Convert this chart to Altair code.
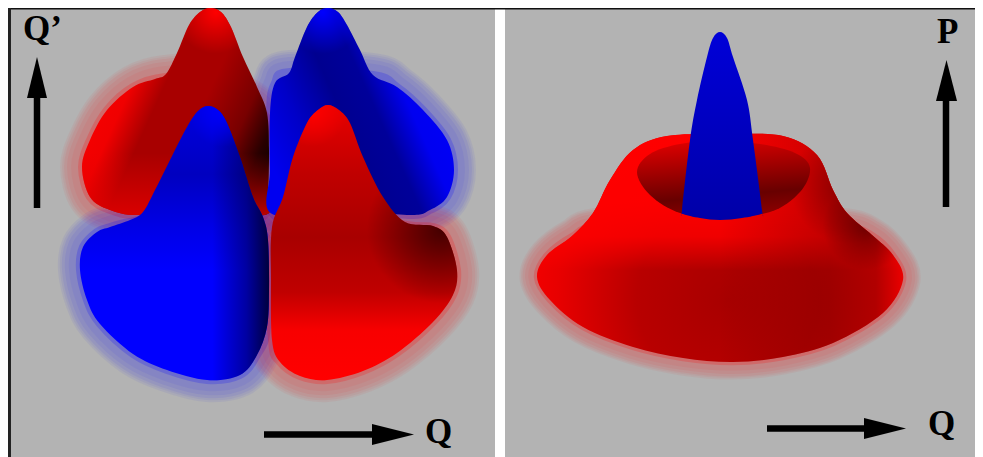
import altair as alt
import pandas as pd

GRAY = "#b3b3b3"
PANEL_X = [11, 505]
PANEL_X2 = [495, 975]

# --- outlines (Q, Q'), left panel ---
BR_LOBE_X = [165, 133, 107, 90, 82, 90, 110, 140, 200, 265, 268, 200]
BR_LOBE_Y = [77, 87, 110, 140, 167, 197, 210, 215, 205, 215, 120, 80]
BR_BODY_X = [210, 221, 231, 243, 257, 267, 269, 268, 265, 200, 140, 110, 90, 82, 90, 107, 133, 155, 166, 177, 189, 200]
BR_BODY_Y = [8, 12, 27, 57, 87, 113, 150, 190, 215, 207, 215, 210, 197, 167, 140, 110, 87, 79, 74, 53, 25, 12]
BB_LOBE_X = [373, 397, 423, 447, 454, 447, 430, 410, 340, 272, 270, 275, 290]
BB_LOBE_Y = [75, 87, 110, 140, 170, 197, 210, 215, 210, 213, 113, 83, 72]
BB_BODY_X = [328, 338, 347, 360, 373, 397, 423, 447, 454, 447, 430, 410, 340, 272, 270, 270, 275, 289, 295, 307, 318]
BB_BODY_Y = [8, 12, 25, 50, 75, 87, 110, 140, 170, 197, 210, 215, 210, 214, 170, 113, 83, 73, 57, 27, 12]
FB_LOBE_X = [130, 110, 97, 83, 80, 87, 100, 133, 167, 207, 240, 257, 267, 268, 200]
FB_LOBE_Y = [222, 227, 232, 247, 270, 300, 324, 354, 370, 380, 375, 355, 327, 240, 210]
FB_BODY_X = [208, 218, 227, 240, 253, 263, 268, 269, 267, 257, 240, 207, 167, 133, 100, 87, 80, 83, 97, 110, 130, 143, 155, 170, 187, 198]
FB_BODY_Y = [106, 110, 123, 157, 197, 217, 240, 290, 327, 355, 375, 380, 370, 354, 324, 300, 270, 247, 232, 227, 220, 212, 190, 160, 127, 111]
FR_LOBE_X = [407, 433, 447, 457, 453, 433, 397, 363, 327, 300, 280, 272, 271, 330]
FR_LOBE_Y = [225, 227, 237, 270, 295, 322, 353, 371, 380, 376, 362, 340, 240, 210]
FR_BODY_X = [328, 339, 350, 363, 383, 405, 433, 447, 457, 453, 433, 397, 363, 327, 300, 280, 272, 271, 272, 283, 293, 307, 318]
FR_BODY_Y = [105, 110, 123, 157, 197, 222, 226, 237, 270, 295, 322, 353, 371, 380, 376, 362, 340, 280, 227, 197, 157, 123, 110]

# --- right panel ---
DISC_X = [537, 547, 572, 593, 610, 633, 667, 725, 783, 817, 833, 847, 872, 893, 903, 883, 833, 783, 733, 683, 633, 583, 550]
DISC_Y = [277, 255, 236, 213, 180, 150, 136, 134, 136, 155, 190, 213, 235, 255, 280, 313, 343, 357, 362, 358, 347, 327, 300]
DISC_HALO_X = [537, 547, 572, 600, 720, 840, 872, 893, 903, 883, 833, 783, 733, 683, 633, 583, 550]
DISC_HALO_Y = [277, 255, 236, 225, 215, 225, 235, 255, 280, 313, 343, 357, 362, 358, 347, 327, 300]
CRATER_X = [637, 650, 680, 720, 770, 800, 810, 795, 760, 720, 680, 650]
CRATER_Y = [172, 195, 213, 217, 212, 192, 168, 153, 144, 141, 144, 154]
CONE_X = [720, 727, 733, 747, 753, 762, 761, 742, 720, 700, 683, 682, 690, 697, 707, 713]
CONE_Y = [32, 38, 57, 100, 140, 210, 214, 218, 220, 218, 214, 210, 140, 100, 57, 38]

# --- arrows ---
ARROWS = {
    "up1": ([37, 37], [98, 208], [27, 37, 47], [98, 57, 98]),
    "up2": ([946, 946], [101, 207], [936, 946.5, 957], [101, 60, 101]),
    "r1": ([264, 372], [434.5, 434.5], [372, 414, 372], [424, 434.5, 445]),
    "r2": ([767, 864], [428.5, 428.5], [864, 906, 864], [418, 428.5, 439]),
}
LABELS = ["Q\u2019", "Q", "P", "Q"]
LABEL_X = [23, 425, 937, 928]
LABEL_Y = [40, 443, 43, 435]

X = alt.X("x:Q", scale=alt.Scale(domain=[8, 975], nice=False, zero=False), axis=None)
Y = alt.Y("y:Q", scale=alt.Scale(domain=[457, 8], nice=False, zero=False), axis=None)


def stops(pairs):
    return [alt.GradientStop(offset=o, color=c) for o, c in pairs]


def lin(x1, y1, x2, y2, pairs):
    return alt.LinearGradient(gradient="linear", x1=x1, y1=y1, x2=x2, y2=y2, stops=stops(pairs))


def rad(cx, cy, r, pairs):
    return alt.RadialGradient(gradient="radial", x1=cx, y1=cy, x2=cx, y2=cy, r1=0, r2=r, stops=stops(pairs))


def frame(xs, ys):
    return pd.DataFrame({"x": xs, "y": ys, "i": range(len(xs))})


def shape(xs, ys, fill, interp="cardinal-closed", **kw):
    return alt.Chart(frame(xs, ys)).mark_line(
        fill=fill, interpolate=interp, tension=0, strokeOpacity=0, **kw
    ).encode(x=X, y=Y, order="i:Q")


def halo(xs, ys, color, k=1.0):
    out = []
    for w, op in [(44, 0.05), (40, 0.05), (36, 0.06), (30, 0.06), (22, 0.05), (8, 0.2)]:
        out.append(alt.Chart(frame(xs, ys)).mark_line(
            stroke=color, strokeWidth=w * k, strokeOpacity=op, strokeJoin="round",
            interpolate="cardinal-closed", tension=0,
        ).encode(x=X, y=Y, order="i:Q"))
    return out


layers = []
# backgrounds
layers.append(alt.Chart(pd.DataFrame({"x": PANEL_X, "x2": PANEL_X2})).mark_rect(color=GRAY).encode(
    x=X, x2="x2:Q", y=alt.value(0), y2=alt.value(449)))
layers.append(alt.Chart(pd.DataFrame({"x": [8], "x2": [975], "y": [8], "y2": [9.5]})).mark_rect(color="#111111").encode(
    x=X, x2="x2:Q", y=Y, y2="y2:Q"))
layers.append(alt.Chart(pd.DataFrame({"x": [8], "x2": [11], "y": [8], "y2": [457]})).mark_rect(color="#222222").encode(
    x=X, x2="x2:Q", y=Y, y2="y2:Q"))

# halos under every solid
layers += halo(BR_LOBE_X, BR_LOBE_Y, "#ff0000")
layers += halo(BB_LOBE_X, BB_LOBE_Y, "#0000ff")
layers += halo(FB_LOBE_X, FB_LOBE_Y, "#0000ff")
layers += halo(FR_LOBE_X, FR_LOBE_Y, "#ff0000")
layers += halo(DISC_HALO_X, DISC_HALO_Y, "#ff0000", 0.8)

# back red
layers.append(shape(BR_BODY_X, BR_BODY_Y, lin(0, 0.2, 1, 0.7, [(0, "#ff0000"), (0.28, "#f00000"), (0.42, "#a80000"), (0.62, "#a80000"), (0.82, "#780000"), (0.95, "#280000"), (1, "#180000")])))
layers.append(shape(BR_BODY_X, BR_BODY_Y, lin(0, 0.7, 0, 1, [(0, "rgba(230,0,0,0)"), (1, "rgba(230,0,0,0.8)")])))
layers.append(shape(BR_BODY_X, BR_BODY_Y, rad(0.69, 0.02, 0.2, [(0, "rgba(255,0,0,1)"), (1, "rgba(255,0,0,0)")])))
# back blue
layers.append(shape(BB_BODY_X, BB_BODY_Y, lin(1, 0.2, 0, 0.7, [(0, "#0000ff"), (0.3, "#0000f0"), (0.45, "#00009a"), (0.6, "#000090"), (0.8, "#0000c8"), (1, "#0000f0")])))
layers.append(shape(BB_BODY_X, BB_BODY_Y, rad(0.32, 0.02, 0.2, [(0, "rgba(0,0,255,1)"), (1, "rgba(0,0,255,0)")])))
# front blue
layers.append(shape(FB_BODY_X, FB_BODY_Y, lin(0, 0, 0, 1, [(0, "#0000e0"), (0.25, "#0000c0"), (0.45, "#0000e8"), (0.6, "#0000ff"), (1, "#0000ff")])))
layers.append(shape(FB_BODY_X, FB_BODY_Y, lin(0, 0, 1, 0, [(0, "rgba(0,0,70,0)"), (0.7, "rgba(0,0,70,0)"), (0.88, "rgba(0,0,70,0.5)"), (1, "rgba(0,0,50,0.95)")])))
layers.append(shape(FB_BODY_X, FB_BODY_Y, rad(0.68, 0.02, 0.13, [(0, "rgba(0,0,255,1)"), (1, "rgba(0,0,255,0)")])))
# front red
layers.append(shape(FR_BODY_X, FR_BODY_Y, lin(0, 0, 0, 1, [(0, "#e80000"), (0.25, "#c00000"), (0.48, "#a80000"), (0.68, "#c00000"), (0.82, "#f80000"), (1, "#ff0000")])))
layers.append(shape(FR_BODY_X, FR_BODY_Y, rad(0.78, 0.45, 0.27, [(0, "rgba(50,0,0,0.85)"), (1, "rgba(50,0,0,0)")])))
layers.append(shape(FR_BODY_X, FR_BODY_Y, rad(0.0, 0.44, 0.14, [(0, "rgba(40,0,0,0.85)"), (1, "rgba(40,0,0,0)")])))
layers.append(shape(FR_BODY_X, FR_BODY_Y, rad(0.31, 0.02, 0.13, [(0, "rgba(255,0,0,1)"), (1, "rgba(255,0,0,0)")])))
# right panel disc
layers.append(shape(DISC_X, DISC_Y, rad(0.52, 0.64, 0.62, [(0, "#a80000"), (0.4, "#b80000"), (0.75, "#e80000"), (1, "#ff0000")])))
layers.append(shape(DISC_X, DISC_Y, lin(0, 0.3, 0, 0.6, [(0, "rgba(255,0,0,0.95)"), (0.5, "rgba(255,0,0,0.8)"), (1, "rgba(255,0,0,0)")])))
layers.append(shape(DISC_X, DISC_Y, lin(0.5, 0, 1, 0, [(0, "rgba(80,0,0,0)"), (0.6, "rgba(80,0,0,0.3)"), (0.85, "rgba(80,0,0,0.3)"), (1, "rgba(80,0,0,0)")])))
layers.append(shape(DISC_X, DISC_Y, rad(0.9, 0.44, 0.12, [(0, "rgba(40,0,0,0.55)"), (1, "rgba(40,0,0,0)")])))
layers.append(shape(DISC_X, DISC_Y, rad(0.85, 0.33, 0.16, [(0, "rgba(90,0,0,0.6)"), (1, "rgba(90,0,0,0)")])))
layers.append(shape(CRATER_X, CRATER_Y, lin(0.2, 0, 0.4, 1, [(0, "#e00000"), (0.4, "#a00000"), (0.75, "#680000"), (1, "#880000")])))
layers.append(shape(CONE_X, CONE_Y, lin(0, 0, 0, 1, [(0, "#0000d8"), (0.5, "#0000c0"), (1, "#0000a8")])))

# arrows
for sx, sy, hx, hy in ARROWS.values():
    layers.append(alt.Chart(frame(sx, sy)).mark_line(color="black", strokeWidth=6.5).encode(x=X, y=Y, order="i:Q"))
    layers.append(shape(hx, hy, "black", interp="linear-closed"))

layers.append(alt.Chart(pd.DataFrame({"x": LABEL_X, "y": LABEL_Y, "t": LABELS})).mark_text(
    font="Liberation Serif", fontWeight="bold", fontSize=35, align="left", baseline="alphabetic", color="black"
).encode(x=X, y=Y, text="t:N"))

chart = alt.layer(*layers).properties(
    width=967, height=449, padding=0, background="white", autosize=alt.AutoSizeParams(type="none")
).configure_view(stroke=None)

chart.save("out.html", embed_options={"renderer": "svg", "actions": False})
